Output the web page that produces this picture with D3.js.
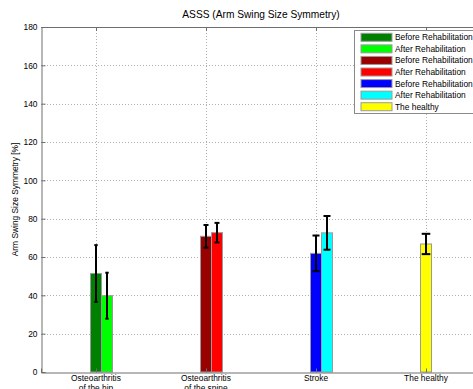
<!DOCTYPE html>
<html>
<head>
<meta charset="utf-8">
<script src="https://cdn.jsdelivr.net/npm/d3@7"></script>
<style>
  html, body { margin: 0; padding: 0; background: #fff; }
  svg { display: block; font-family: Arial, "Liberation Sans", Helvetica, sans-serif; }
</style>
</head>
<body>
<svg id="chart" width="473" height="389"></svg>
<script>
// Group names along the x axis (two-line labels)
const categories = [
  ["Osteoarthritis", "of the hip"],
  ["Osteoarthritis", "of the spine"],
  ["Stroke"],
  ["The healthy"]
];

// One entry per bar series, in legend order
const seriesNames = [
  "Before Rehabilitation", "After Rehabilitation",
  "Before Rehabilitation", "After Rehabilitation",
  "Before Rehabilitation", "After Rehabilitation",
  "The healthy"
];
const seriesGroup = [0, 0, 1, 1, 2, 2, 3];
const seriesStage = ["before", "after", "before", "after", "before", "after", "before"];
const meanValues = [51.4, 39.8, 70.8, 72.7, 61.9, 72.6, 66.8];
const stdValues  = [14.8, 12.0, 5.9, 5.1, 9.3, 8.8, 5.3];
const seriesColors = ["#008000", "#00ff00", "#990000", "#ff0000", "#0000ff", "#00ffff", "#ffff00"];

const yTicks = [0, 20, 40, 60, 80, 100, 120, 140, 160, 180];

const svg = d3.select("#chart");
const plot = { left: 41, right: 481, top: 27, bottom: 372 };

const x = d3.scaleLinear().domain([0.5, 4.5]).range([plot.left, plot.right]);
const y = d3.scaleLinear().domain([0, 180]).range([plot.bottom, plot.top]);

const barWidth = 0.1;             // in category units
const stageShift = { before: 0, after: 0.1 };
const capHalf = [1.7, 2.5, 3.5, 4.3]; // error bar tee half-width per group (px)

// Grid lines
const grid = svg.append("g").attr("stroke", "#b0b0b0").attr("stroke-width", 1)
  .attr("stroke-dasharray", "1,2");
grid.selectAll("line.h").data(yTicks.filter(d => d > 0)).join("line")
  .attr("x1", plot.left).attr("x2", plot.right)
  .attr("y1", d => Math.round(y(d)) + 0.5).attr("y2", d => Math.round(y(d)) + 0.5);
grid.selectAll("line.v").data(categories.map((c, i) => i + 1)).join("line")
  .attr("y1", plot.top).attr("y2", plot.bottom)
  .attr("x1", d => Math.round(x(d)) + 0.5).attr("x2", d => Math.round(x(d)) + 0.5);

// Bars
const bars = meanValues.map((v, i) => ({
  value: v, err: stdValues[i], group: seriesGroup[i],
  pos: seriesGroup[i] + 1 + stageShift[seriesStage[i]], color: seriesColors[i]
}));

svg.append("g").selectAll("rect").data(bars).join("rect")
  .attr("x", d => x(d.pos - barWidth / 2))
  .attr("width", d => x(d.pos + barWidth / 2) - x(d.pos - barWidth / 2))
  .attr("y", d => y(d.value))
  .attr("height", d => y(0) - y(d.value))
  .attr("fill", d => d.color)
  .attr("stroke", "#9a9a9a")
  .attr("stroke-width", 1);

// Error bars
const eb = svg.append("g").attr("stroke", "#000").attr("stroke-width", 2);
bars.forEach(d => {
  const cx = x(d.pos);
  const h = capHalf[d.group];
  eb.append("line").attr("x1", cx).attr("x2", cx)
    .attr("y1", y(d.value + d.err)).attr("y2", y(d.value - d.err));
  eb.append("line").attr("x1", cx - h).attr("x2", cx + h)
    .attr("y1", y(d.value + d.err)).attr("y2", y(d.value + d.err));
  eb.append("line").attr("x1", cx - h).attr("x2", cx + h)
    .attr("y1", y(d.value - d.err)).attr("y2", y(d.value - d.err));
});

// Axes box (left, bottom, top)
const axisColor = "#6e6e6e";
const yAxis = d3.axisLeft(y).tickValues(yTicks).tickSize(-4).tickPadding(4).tickFormat(d3.format("d"));
const yg = svg.append("g").attr("transform", `translate(${plot.left + 0.5},0)`).call(yAxis);
yg.select(".domain").attr("stroke", axisColor);
yg.selectAll(".tick line").attr("stroke", axisColor);
yg.selectAll(".tick text").attr("font-size", "8.4px").attr("fill", "#000")
  .attr("font-family", "Arial, 'Liberation Sans', sans-serif");

const xAxis = d3.axisBottom(x).tickValues([1, 2, 3, 4]).tickSize(-4).tickFormat("");
const xg = svg.append("g").attr("transform", `translate(0,${plot.bottom + 0.5})`).call(xAxis);
xg.select(".domain").attr("stroke", axisColor);
xg.selectAll(".tick line").attr("stroke", axisColor);

svg.append("line").attr("x1", plot.left).attr("x2", plot.right)
  .attr("y1", plot.top + 0.5).attr("y2", plot.top + 0.5).attr("stroke", axisColor);
svg.append("g").selectAll("line").data([1, 2, 3, 4]).join("line")
  .attr("x1", d => x(d) + 0.5).attr("x2", d => x(d) + 0.5)
  .attr("y1", plot.top).attr("y2", plot.top + 4).attr("stroke", axisColor);

// Category labels
const catText = svg.append("g").attr("font-size", "8.4px").attr("text-anchor", "middle").attr("fill", "#000");
categories.forEach((lines, i) => {
  const t = catText.append("text").attr("x", x(i + 1)).attr("y", 381);
  lines.forEach((ln, k) => t.append("tspan").attr("x", x(i + 1)).attr("dy", k === 0 ? 0 : 10).text(ln));
});

// Title and y label
svg.append("text").attr("x", (plot.left + plot.right) / 2).attr("y", 18.3)
  .attr("text-anchor", "middle").attr("font-size", "10.2px").attr("fill", "#000")
  .text("ASSS (Arm Swing Size Symmetry)");
svg.append("text")
  .attr("transform", `translate(18,${(plot.top + plot.bottom) / 2}) rotate(-90)`)
  .attr("text-anchor", "middle").attr("font-size", "8.4px").attr("fill", "#000")
  .text("Arm Swing Size Symmetry [%]");

// Legend
const lg = svg.append("g");
lg.append("rect").attr("x", 354.5).attr("y", 30.5).attr("width", 130).attr("height", 83)
  .attr("fill", "#fff").attr("stroke", "#8a8a8a");
seriesNames.forEach((name, i) => {
  const cy = 37.3 + i * 11.57;
  lg.append("rect").attr("x", 361).attr("y", cy - 4).attr("width", 31).attr("height", 8)
    .attr("fill", seriesColors[i]).attr("stroke", "#9a9a9a");
  lg.append("text").attr("x", 395).attr("y", cy + 3).attr("font-size", "8.4px").attr("fill", "#000")
    .text(name);
});
</script>
</body>
</html>
